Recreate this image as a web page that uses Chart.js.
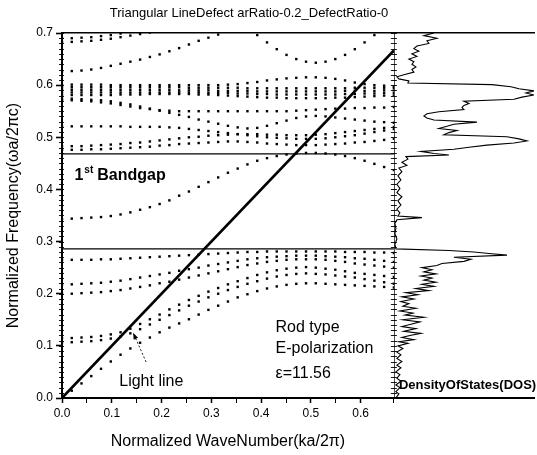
<!DOCTYPE html>
<html><head><meta charset="utf-8">
<script src="https://cdn.jsdelivr.net/npm/chart.js@4.4.1/dist/chart.umd.min.js"></script>
<style>html,body{margin:0;padding:0;background:#fff;}#wrap{width:537px;height:455px;}</style>
</head><body><div id="wrap"><canvas id="c" width="537" height="455"></canvas></div>
<script>
const FONT = "'Liberation Sans', Arial, Helvetica, sans-serif";
const TITLE = 'Triangular LineDefect arRatio-0.2_DefectRatio-0';
const X_TITLE = 'Normalized WaveNumber(ka/2\u03c0)';
const Y_TITLE = 'Normalized Frequency(\u03c9a/2\u03c0c)';
const X_TICKS = [0.0, 0.1, 0.2, 0.3, 0.4, 0.5, 0.6];
const Y_TICKS = [0.0, 0.1, 0.2, 0.3, 0.4, 0.5, 0.6, 0.7];
const K_MAX = 0.6667, F_MAX = 0.7, DOS_MAX = 140, Y_MINOR_STEP = 0.01;

// wave-number samples
const K = [0,0.0196,0.0392,0.0588,0.0784,0.0980,0.1176,0.1373,0.1569,0.1765,0.1961,0.2157,0.2353,0.2549,0.2745,0.2941,0.3137,0.3333,0.3529,0.3725,0.3922,0.4118,0.4314,0.4510,0.4706,0.4902,0.5098,0.5294,0.5490,0.5686,0.5882,0.6078,0.6275,0.6471,0.6667];

// bands below the gap
const lo0 = [0,.014,.028,.042,.056,.070,.083,.095,.106,.116,.126,.135,.143,.151,.160,.169,.177,.185,.193,.199,.205,.210,.214,.217,.219,.220,.220,.219,.218,.217,.216,.215,.214,.213,.212];
const lo1 = [.107,.107,.108,.109,.111,.114,.118,.124,.132,.141,.150,.159,.168,.177,.185,.193,.200,.207,.213,.219,.224,.229,.233,.236,.238,.239,.238,.237,.235,.233,.231,.228,.225,.222,.219];
const lo2 = [.115,.115,.116,.117,.119,.122,.126,.133,.142,.151,.160,.170,.179,.188,.196,.204,.211,.218,.224,.230,.236,.241,.245,.248,.250,.251,.250,.248,.246,.243,.240,.238,.236,.234,.232];
const lo3 = [.200,.200,.201,.202,.203,.205,.207,.210,.213,.216,.220,.223,.227,.231,.235,.239,.243,.247,.251,.255,.258,.261,.263,.265,.266,.266,.266,.265,.263,.261,.258,.256,.254,.252,.250];
const lo4 = [.218,.218,.219,.220,.221,.223,.225,.228,.231,.234,.237,.240,.244,.247,.250,.254,.257,.260,.263,.266,.268,.270,.271,.272,.273,.273,.273,.272,.271,.270,.268,.267,.265,.263,.261];
const lo5 = [.265,.265,.265,.265,.266,.266,.267,.268,.269,.270,.271,.272,.273,.274,.275,.276,.277,.278,.279,.280,.280,.281,.281,.281,.281,.281,.281,.281,.281,.280,.280,.280,.279,.279,.278];
// defect band inside the gap
const gapBand = [.343,.344,.345,.346,.347,.349,.352,.356,.361,.366,.372,.379,.388,.396,.405,.414,.423,.432,.440,.448,.455,.460,.464,.467,.469,.470,.470,.469,.467,.464,.460,.455,.449,.443,.437];
// bands above the gap
const h2 = [.476,.476,.476,.477,.477,.478,.479,.480,.481,.482,.484,.485,.487,.488,.489,.490,.491,.492,.492,.491,.490,.488,.487,.486,.485,.485,.485,.486,.487,.488,.490,.491,.493,.495,.497];
const h1 = [.483,.483,.483,.484,.485,.486,.487,.489,.490,.492,.494,.496,.498,.500,.501,.503,.504,.505,.506,.506,.506,.505,.505,.504,.504,.504,.505,.506,.508,.510,.512,.514,.516,.518,.520];
const ug = [.521,.521,.521,.521,.521,.521,.521,.520,.520,.520,.520,.519,.518,.516,.514,.512,.510,.508,.506,.504,.502,.500,.499,.498,.497,.497,.497,.498,.500,.502,.504,.507,.510,.513,.516];
const ud = [.574,.574,.573,.572,.571,.569,.566,.563,.559,.555,.551,.547,.543,.539,.534,.530,.526,.522,.519,.517,.518,.522,.527,.532,.537,.540,.541,.540,.538,.536,.534,.532,.530,.529,.528];
const ue = [.571,.571,.570,.569,.567,.565,.562,.559,.556,.554,.552,.551,.550,.550,.550,.550,.550,.550,.550,.550,.550,.550,.550,.550,.551,.552,.553,.554,.555,.555,.556,.556,.557,.557,.558];
const c4 = [.581,.581,.581,.581,.581,.581,.582,.582,.582,.583,.583,.583,.583,.583,.582,.582,.581,.580,.579,.578,.577,.576,.576,.575,.575,.575,.575,.575,.576,.576,.577,.578,.579,.580,.580];
const c3 = [.586,.586,.586,.586,.586,.586,.586,.586,.586,.586,.586,.586,.586,.586,.586,.585,.585,.585,.584,.584,.583,.583,.582,.582,.582,.582,.582,.582,.582,.583,.583,.584,.584,.585,.585];
const c2 = [.591,.591,.591,.591,.591,.591,.591,.591,.591,.591,.591,.591,.590,.590,.590,.590,.589,.589,.589,.589,.588,.588,.588,.588,.588,.588,.588,.588,.588,.589,.589,.589,.589,.590,.590];
const c1 = [.596,.596,.596,.596,.596,.596,.596,.596,.596,.596,.596,.596,.596,.595,.595,.595,.595,.595,.595,.594,.594,.594,.594,.594,.594,.594,.594,.594,.594,.594,.595,.595,.595,.595,.595];
const c0 = [.601,.601,.601,.601,.601,.600,.600,.600,.600,.600,.600,.600,.600,.600,.600,.600,.600,.601,.602,.604,.606,.609,.611,.613,.614,.615,.615,.614,.612,.609,.605,.602,.600,.599,.598];
const ub = [.626,.627,.628,.630,.633,.637,.641,.645,.649,.654,.659,.665,.671,.678,.685,.691,.697,.703,null,null,null,null,null,null,null,null,null,null,null,null,null,null,null,null,null];
const ua1 = [.683,.683,.684,.685,.687,.689,.692,.695,.698,.701,null,null,null,null,null,null,null,null,null,null,null,null,null,null,null,null,null,null,null,null,null,null,null,null,null];
const ua2 = [.690,.690,.691,.692,.694,.696,.699,.702,null,null,null,null,null,null,null,null,null,null,null,null,null,null,null,null,null,null,null,null,null,null,null,null,null,null,null];
const up = [null,null,null,null,null,null,null,null,null,null,null,null,null,null,null,null,null,null,null,.712,.696,.682,.669,.658,.650,.645,.643,.645,.650,.658,.669,.682,.696,.712,null];

// light line and gap edges
const LIGHT_K = [0, 0.6667];
const LIGHT_F = [0, 0.6667];
const GAP_EDGES = [0.286, 0.468];

// density of states (frequency, DOS value)
const dosFreq = [0.000,0.008,0.012,0.020,0.025,0.032,0.038,0.045,0.050,0.058,0.063,0.070,0.076,0.083,0.088,0.095,0.100,0.105,0.108,0.112,0.116,0.120,0.124,0.128,0.133,0.137,0.142,0.146,0.150,0.155,0.159,0.163,0.167,0.172,0.176,0.181,0.185,0.190,0.194,0.198,0.202,0.206,0.210,0.214,0.218,0.222,0.226,0.230,0.234,0.238,0.242,0.246,0.250,0.254,0.258,0.262,0.266,0.270,0.274,0.277,0.280,0.283,0.286,0.295,0.305,0.315,0.325,0.335,0.342,0.346,0.349,0.355,0.362,0.370,0.378,0.386,0.394,0.402,0.410,0.418,0.426,0.434,0.441,0.446,0.452,0.458,0.463,0.466,0.469,0.473,0.477,0.481,0.485,0.489,0.493,0.497,0.501,0.505,0.509,0.513,0.517,0.521,0.525,0.529,0.533,0.537,0.541,0.545,0.549,0.553,0.557,0.561,0.565,0.569,0.573,0.577,0.581,0.585,0.589,0.593,0.597,0.601,0.604,0.608,0.612,0.616,0.620,0.625,0.630,0.635,0.640,0.645,0.650,0.655,0.660,0.665,0.670,0.675,0.680,0.685,0.690,0.695,0.700];
const dosVal = [2,5,2,6,2,7,3,6,2,7,3,8,3,7,3,9,4,14,5,20,8,16,27,10,22,8,18,26,9,30,11,19,6,22,9,15,7,20,8,24,12,35,22,40,28,42,30,38,27,42,30,38,28,43,48,70,77,60,113,95,80,55,2,1,3,1,2,1,3,28,4,6,3,7,4,8,3,6,3,7,4,8,5,13,8,14,12,55,40,27,60,75,93,120,133,125,113,50,55,63,45,53,60,83,40,33,30,33,45,70,68,70,75,70,120,128,140,132,140,125,117,98,14,15,5,3,10,20,18,22,18,20,15,23,18,25,20,23,35,33,43,30,40];

function toPts(xs, ys) {
  const out = [];
  xs.forEach((xv, i) => { if (ys[i] !== null && ys[i] !== undefined) out.push({x: xv, y: ys[i]}); });
  return out;
}
const isMajor = (v, list) => list.some(t => Math.abs(t - v) < 1e-6);

const bandSets = [lo0, lo1, lo2, lo3, lo4, lo5, gapBand, h2, h1, ug, ud, ue, c4, c3, c2, c1, c0, ub, ua1, ua2, up];
const datasets = bandSets.map(b => ({
  data: toPts(K, b), xAxisID: 'x', yAxisID: 'y', showLine: false,
  pointStyle: 'rect', pointRadius: 1.7, pointHoverRadius: 1.7,
  pointBackgroundColor: '#000', pointBorderWidth: 0
}));
GAP_EDGES.forEach(g => datasets.push({
  data: [{x: 0, y: g}, {x: K_MAX, y: g}], xAxisID: 'x', yAxisID: 'y', showLine: true,
  borderColor: '#000', borderWidth: 1.3, pointRadius: 0
}));
datasets.push({
  data: toPts(LIGHT_K, LIGHT_F), xAxisID: 'x', yAxisID: 'y', showLine: true,
  borderColor: '#000', borderWidth: 2.6, pointRadius: 0
});
datasets.push({
  data: [{x: 0, y: 0}, {x: 0, y: F_MAX}], xAxisID: 'xd', yAxisID: 'y', showLine: true,
  borderColor: '#000', borderWidth: 1.6, pointRadius: 0
});
datasets.push({
  data: toPts(dosVal, dosFreq), xAxisID: 'xd', yAxisID: 'y', showLine: true,
  borderColor: '#000', borderWidth: 1.1, pointRadius: 0, tension: 0
});

const annot = {
  id: 'annot',
  afterDraw(chart) {
    const {ctx, scales: {x, y, xd}} = chart;
    const px = v => x.getPixelForValue(v), py = v => y.getPixelForValue(v);
    ctx.save();
    ctx.fillStyle = '#000';
    ctx.strokeStyle = '#000';
    // minor tick combs on left axis and on the DOS divider
    ctx.lineWidth = 0.9;
    ctx.beginPath();
    const nMinor = Math.round(F_MAX / Y_MINOR_STEP);
    for (let i = 0; i <= nMinor; i++) {
      const yy = Math.round(py(i * Y_MINOR_STEP)) + 0.5;
      ctx.moveTo(x.left - 3, yy); ctx.lineTo(x.left + 2, yy);
      ctx.moveTo(xd.left - 3, yy); ctx.lineTo(xd.left + 3, yy);
    }
    ctx.stroke();
    // title
    ctx.font = `13px ${FONT}`;
    ctx.textAlign = 'center'; ctx.textBaseline = 'middle';
    ctx.fillText(TITLE, 249, 13);
    // 1st Bandgap
    ctx.textAlign = 'left'; ctx.textBaseline = 'alphabetic';
    let bx = px(0.025), by = py(0.418);
    ctx.font = `bold 16px ${FONT}`;
    ctx.fillText('1', bx, by);
    bx += ctx.measureText('1').width + 1;
    ctx.font = `bold 10px ${FONT}`;
    ctx.fillText('st', bx, by - 7);
    bx += ctx.measureText('st').width + 4;
    ctx.font = `bold 16px ${FONT}`;
    ctx.fillText('Bandgap', bx, by);
    // polarization notes
    ctx.font = `16px ${FONT}`;
    ctx.fillText('Rod type', px(0.429), py(0.127));
    ctx.fillText('E-polarization', px(0.429), py(0.0857));
    ctx.fillText('\u03b5=11.56', px(0.429), py(0.0378));
    // light line label and arrow
    ctx.fillText('Light line', px(0.115), py(0.023));
    const ax0 = px(0.169), ay0 = py(0.069), ax1 = px(0.143), ay1 = py(0.125);
    ctx.lineWidth = 0.9;
    ctx.setLineDash([2, 2]);
    ctx.beginPath(); ctx.moveTo(ax0, ay0); ctx.lineTo(ax1, ay1); ctx.stroke();
    ctx.setLineDash([]);
    const ang = Math.atan2(ay1 - ay0, ax1 - ax0);
    ctx.beginPath();
    ctx.moveTo(ax1, ay1);
    ctx.lineTo(ax1 - 7 * Math.cos(ang - 0.35), ay1 - 7 * Math.sin(ang - 0.35));
    ctx.lineTo(ax1 - 7 * Math.cos(ang + 0.35), ay1 - 7 * Math.sin(ang + 0.35));
    ctx.closePath(); ctx.fill();
    // DOS label
    ctx.font = `bold 13px ${FONT}`;
    ctx.textBaseline = 'middle';
    ctx.fillText('DensityOfStates(DOS)', xd.left + 5, 385);
    ctx.restore();
  }
};

new Chart(document.getElementById('c'), {
  type: 'scatter',
  data: {datasets},
  options: {
    responsive: false, animation: false, devicePixelRatio: 1,
    layout: {padding: {top: 33, left: 0, right: 0, bottom: 0}},
    plugins: {legend: {display: false}, tooltip: {enabled: false}, title: {display: false}},
    scales: {
      x: {
        type: 'linear', position: 'bottom', stack: 'bot', stackWeight: 334,
        min: 0, max: K_MAX,
        afterFit: s => { s.height = 57; },
        ticks: {stepSize: 0.05, autoSkip: false, maxRotation: 0, padding: 3, color: '#000',
          font: {family: FONT, size: 12},
          callback: v => isMajor(v, X_TICKS) ? v.toFixed(1) : ''},
        grid: {drawOnChartArea: false, tickLength: 5, color: '#000',
          tickWidth: c => (c.tick && isMajor(c.tick.value, X_TICKS)) ? 1.5 : 1},
        border: {display: true, color: '#000', width: 2},
        title: {display: true, text: X_TITLE, color: '#000', font: {family: FONT, size: 16}, padding: {top: 4, bottom: 4}}
      },
      xd: {
        type: 'linear', position: 'bottom', stack: 'bot', stackWeight: 141,
        min: 0, max: DOS_MAX,
        afterFit: s => { s.height = 57; },
        ticks: {display: false},
        grid: {display: false},
        border: {display: true, color: '#000', width: 2}
      },
      xTop: {
        type: 'linear', position: 'top', min: 0, max: 1,
        afterFit: s => { s.height = 0; },
        ticks: {display: false}, grid: {display: false},
        border: {display: true, color: '#000', width: 1.5}
      },
      y: {
        type: 'linear', position: 'left', min: 0, max: F_MAX,
        afterFit: s => { s.width = 62; },
        ticks: {stepSize: 0.1, autoSkip: false, padding: 3, color: '#000',
          font: {family: FONT, size: 12},
          callback: v => isMajor(v, Y_TICKS) ? v.toFixed(1) : ''},
        grid: {drawOnChartArea: false, tickLength: 6, color: '#000', tickWidth: 1.6},
        border: {display: true, color: '#000', width: 2},
        title: {display: true, text: Y_TITLE, color: '#000', font: {family: FONT, size: 16}, padding: {top: 4, bottom: 4}}
      }
    }
  },
  plugins: [annot]
});
</script>
</body></html>
